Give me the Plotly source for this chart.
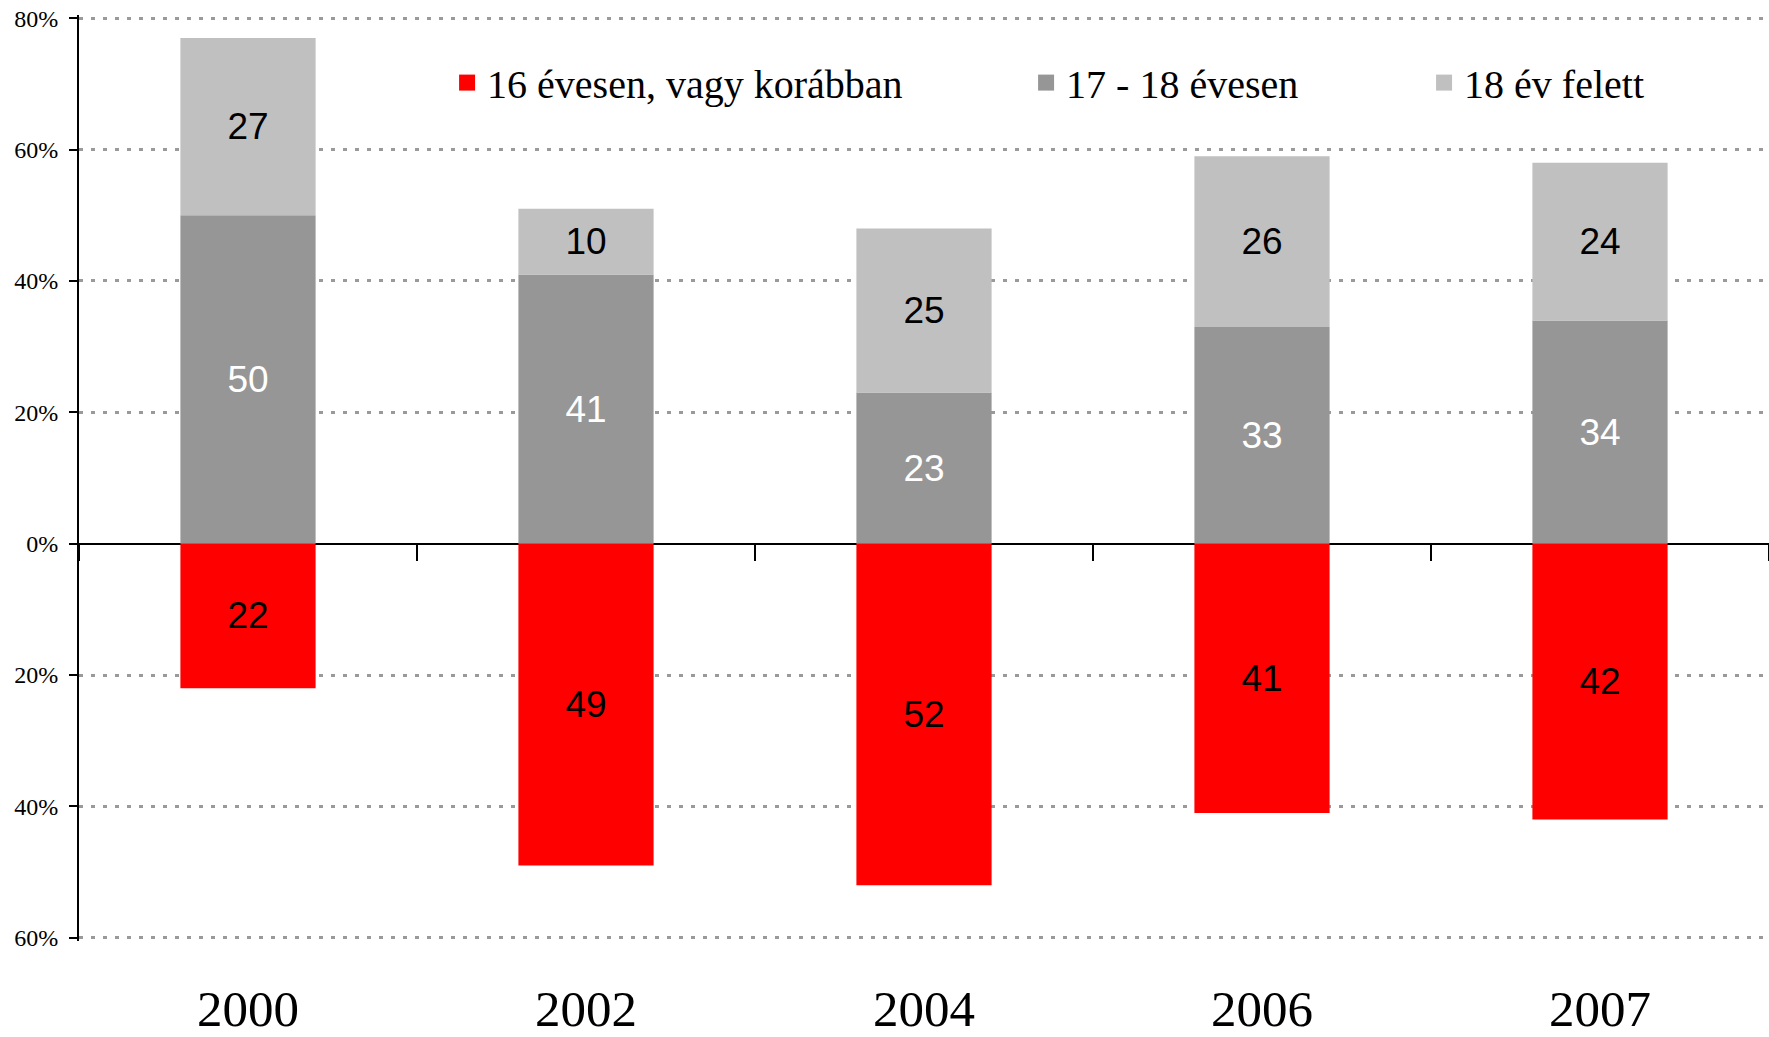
import plotly.graph_objects as go

# ---- data ----
years = ["2000", "2002", "2004", "2006", "2007"]
early = [22, 49, 52, 41, 42]      # 16 évesen, vagy korábban (drawn below zero)
mid = [50, 41, 23, 33, 34]        # 17 - 18 évesen
late = [27, 10, 25, 26, 24]       # 18 év felett
series_names = ["16 évesen, vagy korábban", "17 - 18 évesen", "18 év felett"]
ytick_vals = [-60, -40, -20, 0, 20, 40, 60, 80]
ytick_text = ["60%", "40%", "20%", "0%", "20%", "40%", "60%", "80%"]

colors = ["#FF0000", "#969696", "#C0C0C0"]
label_colors = ["black", "white", "black"]
legend_ids = ["legend", "legend2", "legend3"]

fig = go.Figure()

values = [[-v for v in early], mid, late]
texts = [early, mid, late]
for i in range(3):
    fig.add_trace(go.Bar(
        x=years, y=values[i], text=[str(t) for t in texts[i]],
        textposition="inside", insidetextanchor="middle", textangle=0,
        constraintext="none",
        textfont=dict(family="Liberation Sans, Arial", size=37, color=label_colors[i]),
        marker=dict(color=colors[i], line=dict(width=0)),
        width=0.4, name=series_names[i], showlegend=False,
        legendgroup=series_names[i], hoverinfo="skip",
    ))
    fig.add_trace(go.Scatter(
        x=[None], y=[None], mode="markers", name=series_names[i],
        marker=dict(symbol="square", size=22, color=colors[i]),
        legendgroup=series_names[i], legend=legend_ids[i], showlegend=True,
    ))

# invisible trace carrying the axis at the zero line (boundary ticks)
fig.add_trace(go.Bar(x=years, y=[None] * len(years), xaxis="x2", showlegend=False,
                     hoverinfo="skip"))

ymin, ymax = -60.5, 80.5
legend_x = [0.2178, 0.5604, 0.7959]
legend_common = dict(orientation="h", yanchor="middle", y=0.927, xanchor="left",
                     bgcolor="rgba(0,0,0,0)", borderwidth=0, itemsizing="trace",
                     font=dict(family="Liberation Serif, Times New Roman", size=40, color="black"))

fig.update_layout(
    width=1769, height=1037,
    margin=dict(l=79, r=0, t=15, b=96, pad=0, autoexpand=False),
    paper_bgcolor="white", plot_bgcolor="white",
    barmode="relative", bargap=0.6,
    legend=dict(x=legend_x[0], **legend_common),
    legend2=dict(x=legend_x[1], **legend_common),
    legend3=dict(x=legend_x[2], **legend_common),
    xaxis=dict(type="category", categoryorder="array", categoryarray=years,
               range=[-0.5, 4.5], showgrid=False, showline=False, zeroline=False,
               ticks="", ticklabelstandoff=33, automargin=False,
               tickfont=dict(family="Liberation Serif, Times New Roman", size=51, color="black")),
    xaxis2=dict(type="category", categoryorder="array", categoryarray=years,
                range=[-0.5, 4.5], overlaying="x", anchor="free",
                position=(0 - ymin) / (ymax - ymin),
                side="bottom", showgrid=False, showline=False, zeroline=False,
                showticklabels=False, ticks="outside", tickson="boundaries",
                ticklen=16, tickwidth=2, tickcolor="black", automargin=False),
    yaxis=dict(range=[ymin, ymax], tickvals=ytick_vals, ticktext=ytick_text,
               showgrid=True, gridcolor="#9a9a9a", gridwidth=3, griddash="4px,8px",
               zeroline=True, zerolinecolor="black", zerolinewidth=2,
               showline=True, linecolor="black", linewidth=2,
               ticks="outside", ticklen=8, tickwidth=2, tickcolor="black",
               ticklabelstandoff=6, automargin=False,
               tickfont=dict(family="Liberation Serif, Times New Roman", size=24, color="black")),
)

fig.write_html("out.html", config={"displayModeBar": False},
               post_script="document.body.style.margin='0';")
